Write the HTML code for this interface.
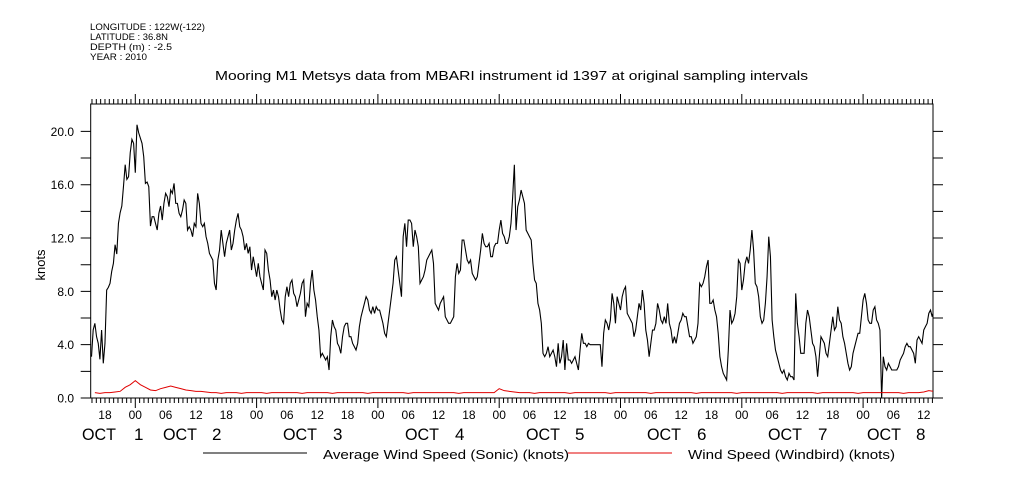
<!DOCTYPE html>
<html><head><meta charset="utf-8"><style>
html,body{margin:0;padding:0;background:#fff;}
svg{display:block;font-family:"Liberation Sans",sans-serif;}
</style></head><body>
<svg id="chart" width="1009" height="504" viewBox="0 0 1009 504" xmlns="http://www.w3.org/2000/svg">
<g font-size="9" fill="#000">
<text x="90" y="30" textLength="115" lengthAdjust="spacingAndGlyphs">LONGITUDE : 122W(-122)</text>
<text x="90" y="40" textLength="78" lengthAdjust="spacingAndGlyphs">LATITUDE : 36.8N</text>
<text x="90" y="50" textLength="82" lengthAdjust="spacingAndGlyphs">DEPTH (m) : -2.5</text>
<text x="90" y="60" textLength="57" lengthAdjust="spacingAndGlyphs">YEAR : 2010</text>
</g>
<text x="215" y="80" font-size="13" textLength="593" lengthAdjust="spacingAndGlyphs">Mooring M1 Metsys data from MBARI instrument id 1397 at original sampling intervals</text>
<text x="0" y="0" font-size="13" transform="translate(45,265) rotate(-90)" text-anchor="middle">knots</text>
<g id="axes"></g>
<g id="series"></g>
<g>
<line x1="203" y1="453" x2="307" y2="453" stroke="#000" stroke-width="1"/>
<text x="323" y="459" font-size="13" textLength="246" lengthAdjust="spacingAndGlyphs">Average Wind Speed (Sonic) (knots)</text>
<line x1="568" y1="453" x2="672" y2="453" stroke="#e00000" stroke-width="1"/>
<text x="688" y="459" font-size="13" textLength="207" lengthAdjust="spacingAndGlyphs">Wind Speed (Windbird) (knots)</text>
</g>
</svg>
<script>
// time in hours relative to Oct 1 00:00
const sonicStartHour = -8.667;
const sonicStepHour = 1/3;
const sonicValues = [3.1,5.1,5.6,4.6,4.1,2.9,5.1,2.6,4.1,8.1,8.3,8.6,9.5,10.1,11.5,10.8,13.1,13.9,14.4,15.9,17.5,16.4,16.6,18.4,19.4,19.1,16.9,20.5,19.9,19.5,19.1,18.1,16.1,16.2,15.85,12.9,13.6,13.6,13.1,12.6,13.85,14.4,13.35,14.6,15.35,15.1,14.35,15.6,15.35,16.1,14.6,14.6,13.85,13.6,14.1,14.85,14.6,12.6,12.85,12.6,12.1,13.1,12.85,15.35,14.6,13.1,12.85,13.1,12.1,11.6,10.85,10.6,10.35,8.6,8.1,10.35,11.1,12.6,11.6,10.6,11.6,12.1,12.6,11.1,11.6,12.6,13.35,13.85,12.85,12.6,12.1,11.1,11.6,10.85,11.35,9.6,10.6,9.85,9.1,10.1,9.1,8.6,8.1,11.1,10.85,9.6,8.85,7.6,8.1,7.35,8.1,7.6,6.6,5.85,5.6,7.6,8.35,7.6,8.6,8.85,7.85,7.6,6.85,7.35,7.85,8.6,8.85,6.1,7.1,6.85,8.6,9.6,8.1,7.35,6.1,5.1,3.1,3.35,3.1,2.85,3.1,2.1,4.6,5.85,5.35,5.1,4.1,3.85,3.35,4.6,5.35,5.6,5.6,4.6,4.6,4.1,3.85,3.6,4.1,5.35,6.1,6.6,7.1,7.6,7.35,6.6,6.35,6.85,6.35,6.85,6.6,6.6,6.1,5.6,4.85,4.6,5.6,6.6,7.6,8.6,10.35,10.6,9.6,8.6,7.6,12.1,13.1,11.35,13.35,13.35,13.1,11.35,12.6,12.1,11.35,8.6,8.85,9.1,9.6,10.35,10.6,10.85,11.1,10.1,7.1,6.85,6.6,7.1,7.35,7.6,6.1,5.85,5.6,5.6,5.85,6.1,9.1,10.1,9.35,9.6,11.85,11.85,11.1,10.35,10.1,10.35,9.35,9.1,8.85,9.1,10.1,11.1,12.35,11.6,11.35,11.35,11.6,10.6,10.6,11.35,11.6,11.6,12.6,13.35,12.35,12.1,11.6,11.6,12.1,13.1,15.1,17.5,12.6,14.35,14.85,15.6,15.1,14.6,
12.6,12.35,12.1,11.85,10.1,8.85,8.6,7.1,6.6,5.6,3.35,3.1,3.35,3.85,3.1,3.35,3.6,3.1,2.35,4.1,2.6,3.1,4.35,2.1,4.1,2.85,2.85,2.6,2.85,3.1,2.6,2.1,3.6,4.85,4.1,4.1,3.85,4.1,4.0,4.0,4.0,4.0,4.0,4.0,4.0,2.35,4.85,5.85,5.6,5.1,5.85,7.85,7.1,5.6,7.6,7.1,6.6,7.6,8.1,8.35,6.35,6.1,5.85,5.6,4.6,5.1,6.1,7.1,6.6,8.1,7.1,5.1,4.35,3.1,4.1,5.1,5.1,5.6,7.1,6.6,5.85,5.6,6.1,5.6,7.1,5.6,5.1,4.1,4.6,4.1,4.85,5.6,5.85,6.35,6.1,6.1,5.35,4.6,4.6,4.1,4.35,4.6,5.6,8.6,8.35,8.6,9.1,9.85,10.35,7.1,7.1,7.35,6.6,6.1,4.85,3.1,2.35,1.85,1.6,1.35,3.6,6.6,5.6,5.85,6.35,7.6,10.35,10.1,8.1,8.85,10.1,10.6,10.1,11.1,12.6,11.1,8.6,8.35,7.6,6.1,5.6,5.85,7.1,9.1,12.1,10.6,5.85,4.6,3.6,3.1,2.6,2.1,1.85,2.1,1.6,1.35,1.85,1.6,1.6,1.35,7.85,5.6,4.6,3.35,3.35,3.35,5.6,6.6,6.1,5.1,4.1,3.85,3.1,1.6,3.1,4.6,4.35,4.1,3.35,3.1,4.1,5.1,6.1,5.1,5.35,6.85,5.85,5.6,4.6,4.1,3.35,2.6,2.1,2.35,3.35,3.85,4.35,4.85,4.85,6.1,7.35,7.85,7.1,5.85,5.6,5.6,6.6,6.85,5.85,5.6,5.1,0.0,3.1,2.35,2.1,2.6,2.35,2.1,2.1,2.1,2.1,2.35,2.85,3.1,3.35,3.85,4.1,3.85,3.85,3.6,3.35,2.6,4.35,4.6,4.35,4.1,5.1,5.35,5.6,6.35,6.6,6.1,6.6,6.85,7.35,7.35,6.35];
const windbirdStartHour = -8;
const windbirdValues = [0.4,0.35,0.4,0.4,0.45,0.5,0.8,1.0,1.3,1.0,0.8,0.6,0.55,0.7,0.8,0.9,0.8,0.7,0.6,0.55,0.5,0.5,0.45,0.4,0.4,0.35,0.4,0.4,0.4,0.35,0.4,0.4,0.4,0.4,0.35,0.4,0.4,0.4,0.4,0.4,0.4,0.35,0.4,0.4,0.4,0.4,0.4,0.35,0.4,0.4,0.4,0.4,0.4,0.4,0.35,0.4,0.4,0.4,0.4,0.4,0.4,0.4,0.35,0.4,0.4,0.4,0.4,0.4,0.4,0.4,0.4,0.4,0.35,0.4,0.4,0.4,0.4,0.4,0.4,0.4,0.7,0.55,0.5,0.45,0.4,0.4,0.4,0.35,0.4,0.4,0.4,0.4,0.4,0.4,0.35,0.4,0.4,0.4,0.4,0.4,0.4,0.4,0.35,0.4,0.4,0.4,0.4,0.4,0.4,0.4,0.35,0.4,0.4,0.4,0.4,0.4,0.4,0.4,0.4,0.35,0.4,0.4,0.4,0.4,0.4,0.4,0.4,0.35,0.4,0.4,0.4,0.4,0.4,0.4,0.4,0.4,0.35,0.4,0.4,0.4,0.4,0.4,0.4,0.35,0.4,0.4,0.4,0.4,0.4,0.4,0.4,0.35,0.4,0.4,0.4,0.4,0.4,0.4,0.4,0.4,0.35,0.4,0.4,0.4,0.45,0.55,0.5,0.6,0.45,0.4];
const yTickValues = [0,2,4,6,8,10,12,14,16,18,20];
const yTickLabels = ["0.0","4.0","8.0","12.0","16.0","20.0"];
const dayLabels = ["OCT 1","OCT 2","OCT 3","OCT 4","OCT 5","OCT 6","OCT 7","OCT 8"];

const NS = "http://www.w3.org/2000/svg";
const L = 90.7, R = 933, T = 104, B = 398;
const x0 = 135.3, pxPerHour = 121.3 / 24;
const xScale = h => x0 + h * pxPerHour;
const yScale = v => B - v * 13.33;
function mk(tag, attrs, parent) {
  const e = document.createElementNS(NS, tag);
  for (const k in attrs) e.setAttribute(k, attrs[k]);
  parent.appendChild(e);
  return e;
}
const axes = document.getElementById('axes');
const frame = mk('rect', {x: L, y: T, width: R - L, height: B - T, fill: 'none', stroke: '#000', 'stroke-width': 1}, axes);



const hStart = (L - x0) / pxPerHour, hEnd = (R - x0) / pxPerHour;
let d = '';
const minorPerDay = 28;
for (let k = Math.ceil(hStart / 24 * minorPerDay); k <= Math.floor(hEnd / 24 * minorPerDay); k++) {
  const x = xScale(k * 24 / minorPerDay);
  d += `M${x},${B}V${B + 5}M${x},${T}V${T - 5}`;
}
for (let day = -1; day <= 7; day++) {
  const x = xScale(day * 24);
  if (x < L || x > R) continue;
  d += `M${x},${B}V${B + 10}M${x},${T}V${T - 10}`;
}
yTickValues.forEach(v => {
  const y = yScale(v);
  d += `M${L},${y}H${L - 10}M${R},${y}H${R + 10}`;
});
const ticks = mk('path', {d: d, stroke: '#000', 'stroke-width': 1, fill: 'none'}, axes);



for (let h = -6; h <= hEnd; h += 6) {
  const x = xScale(h);
  if (x < L) continue;
  const idx = ((h % 24) + 24) % 24 / 6;
  const lbl = ["00","06","12","18"][idx];
  const t = mk('text', {x: x, y: 419, 'font-size': 12, 'text-anchor': 'middle'}, axes);
  t.textContent = lbl;
  
  
}
const dayPos = [[82,134],[163,212],[283,333],[405,455],[526,575],[647,697],[768,818],[867,916]];
dayLabels.forEach((lbl, i) => {
  const parts = lbl.split(' ');
  const t1 = mk('text', {x: dayPos[i][0], y: 440, 'font-size': 17, textLength: 34, lengthAdjust: 'spacingAndGlyphs'}, axes);
  t1.textContent = parts[0];
  
  
  const t2 = mk('text', {x: dayPos[i][1], y: 440, 'font-size': 17}, axes);
  t2.textContent = parts[1];
  
  
});
yTickLabels.forEach(lbl => {
  const v = parseFloat(lbl);
  const t = mk('text', {x: 74, y: yScale(v) + 4.5, 'font-size': 12, 'text-anchor': 'end'}, axes);
  t.textContent = lbl;
  
  
});

const series = document.getElementById('series');
const defs = mk('defs', {}, series);
const cp = mk('clipPath', {id: 'plotclip'}, defs);
mk('rect', {x: L, y: T - 2, width: R - L, height: B - T + 4}, cp);
const sp = sonicValues.map((v, i) => `${xScale(sonicStartHour + i * sonicStepHour).toFixed(2)},${yScale(v).toFixed(2)}`).join(' ');
const sonic = mk('polyline', {points: sp, fill: 'none', stroke: '#000', 'stroke-width': 1.1, 'clip-path': 'url(#plotclip)'}, series);


const wp = windbirdValues.map((v, i) => `${xScale(windbirdStartHour + i).toFixed(2)},${yScale(v).toFixed(2)}`).join(' ');
const wb = mk('polyline', {points: wp, fill: 'none', stroke: '#e00000', 'stroke-width': 1, 'clip-path': 'url(#plotclip)'}, series);


</script>
</body></html>
